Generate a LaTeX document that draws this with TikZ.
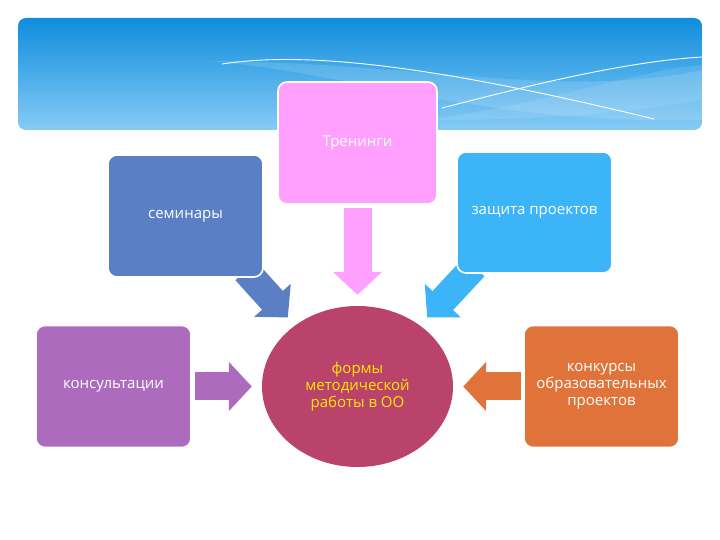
\documentclass[tikz,border=0pt]{standalone}
\usepackage{fontspec}
\setmainfont{Open Sans}
\definecolor{skytop}{RGB}{14, 141, 220}
\definecolor{skybot}{RGB}{134, 203, 246}
\definecolor{pinkc}{RGB}{255, 160, 255}
\definecolor{semblue}{RGB}{91, 127, 196}
\definecolor{lightblue}{RGB}{59, 181, 248}
\definecolor{violetc}{RGB}{173, 107, 190}
\definecolor{orangec}{RGB}{224, 115, 58}
\definecolor{hubred}{RGB}{185, 67, 107}
\definecolor{hubtext}{RGB}{255, 232, 0}
\usetikzlibrary{arrows.meta, positioning, shapes.geometric, calc, backgrounds}
\tikzset{
	card/.style={rectangle, rounded corners=9pt, draw=white, line width=1.6pt, inner sep=0pt, minimum width=155pt, minimum height=122pt, align=center, text=white, font=\fontsize{15}{17}\selectfont},
	hub/.style={ellipse, fill=hubred, inner sep=0pt, minimum width=191pt, minimum height=161pt, align=center, text=hubtext, font=\fontsize{15}{17}\selectfont},
	fatarrow/.style={line width=28pt, -{Triangle[length=23pt, width=48pt]}},
	wave/.style={white, line width=0.9pt},
}

\begin{document}
\begin{tikzpicture}[x=1pt, y=1pt, node distance=70pt]
		\useasboundingbox (0,0) rectangle (720,540);
		% banner
		\begin{scope}
			\clip[rounded corners=8pt] (18,410) rectangle (702,522);
			\shade[top color=skytop, bottom color=skybot] (18,410) rectangle (702,522);
			\fill[white, opacity=0.13] (207,479) .. controls (350,468) and (480,415) .. (702,420) -- (702,470) .. controls (560,440) and (420,478) .. (207,479);
			\fill[white, opacity=0.10] (430,420) .. controls (560,440) and (640,470) .. (702,475) -- (702,440) .. controls (620,425) and (520,420) .. (430,420);
			\draw[wave] (222,476) .. controls (300,488) and (420,478) .. (654,421);
			\draw[wave] (442,432) .. controls (520,452) and (620,478) .. (702,483);
		\end{scope}
		% nodes
		\node[hub] (focus) at (357.5,153.5) {формы\\методической\\работы в ОО};
		\node[card, fill=violetc, left=of focus] (kons) {консультации};
		\node[card, fill=orangec, right=of focus] (konk) {конкурсы\\образовательных\\проектов};
		\node[card, fill=pinkc, minimum width=159pt, above=101pt of focus] (tren) {Тренинги};
		\node[card, fill=semblue] (sem) at (185.5,324) {семинары};
		\node[card, fill=lightblue, minimum height=121pt] (zash) at (534.5,327.5) {защита проектов};
		% arrows
		\begin{scope}[on background layer]
			\draw[fatarrow, draw=pinkc, fill=pinkc] ([yshift=-3pt]tren.south) -- ([yshift=11pt]focus.north);
			\draw[fatarrow, draw=violetc, fill=violetc] ([xshift=3pt]kons.east) -- ([xshift=-10pt]focus.west);
			\draw[fatarrow, draw=orangec, fill=orangec] ([xshift=-2pt]konk.west) -- ([xshift=10pt]focus.east);
			\draw[fatarrow, draw=semblue, fill=semblue] ($(sem.south east)+(-18,7)$) -- ($(focus.north west)+(-2,12)$);
			\draw[fatarrow, draw=lightblue, fill=lightblue] ($(zash.south west)+(18,7)$) -- ($(focus.north east)+(2,12)$);
		\end{scope}
	\end{tikzpicture}
\end{document}
